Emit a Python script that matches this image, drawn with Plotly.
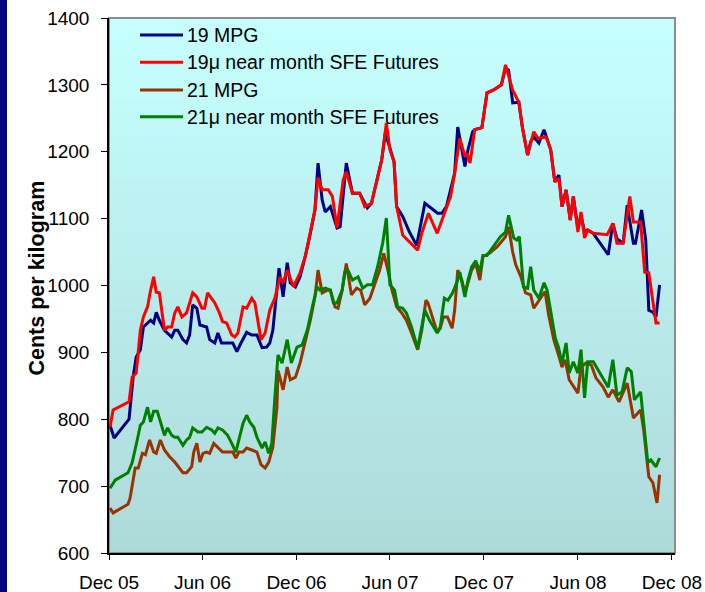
import plotly.graph_objects as go

# ---------------- data ----------------
mpg19_dates = ["2005-12-03","2005-12-11","2006-01-09","2006-01-17","2006-01-23","2006-01-31","2006-02-06","2006-02-20","2006-02-26","2006-03-03","2006-03-09","2006-03-19","2006-04-02","2006-04-08","2006-04-14","2006-04-24","2006-05-01","2006-05-07","2006-05-13","2006-05-21","2006-05-27","2006-06-09","2006-06-15","2006-06-25","2006-07-01","2006-07-08","2006-07-18","2006-07-30","2006-08-07","2006-08-13","2006-08-26","2006-09-05","2006-09-15","2006-09-25","2006-10-04","2006-10-10","2006-10-16","2006-10-28","2006-11-05","2006-11-13","2006-11-19","2006-11-29","2006-12-08","2006-12-18","2006-12-28","2007-01-06","2007-01-12","2007-01-20","2007-01-26","2007-02-05","2007-02-18","2007-02-24","2007-03-08","2007-03-20","2007-04-03","2007-04-18","2007-04-26","2007-05-06","2007-05-16","2007-05-23","2007-06-01","2007-06-09","2007-06-14","2007-06-26","2007-07-09","2007-07-23","2007-08-08","2007-08-17","2007-09-02","2007-09-10","2007-09-19","2007-10-05","2007-10-11","2007-10-25","2007-10-31","2007-11-09","2007-11-13","2007-11-27","2007-12-07","2007-12-19","2008-01-04","2008-01-12","2008-01-18","2008-01-26","2008-02-07","2008-02-14","2008-02-24","2008-03-01","2008-03-07","2008-03-17","2008-03-27","2008-04-09","2008-04-17","2008-04-25","2008-05-01","2008-05-09","2008-05-17","2008-05-23","2008-06-01","2008-06-07","2008-06-14","2008-06-20","2008-07-01","2008-07-08","2008-07-30","2008-08-08","2008-08-16","2008-08-28","2008-09-05","2008-09-17","2008-09-21","2008-10-03","2008-10-11","2008-10-17","2008-10-25","2008-10-31","2008-11-07"]
mpg19_values = [791,772,800,863,893,904,938,948,944,960,948,933,923,933,933,919,914,926,971,966,941,938,919,914,929,914,914,914,901,911,930,926,926,907,908,914,933,1026,983,1034,1004,998,1013,1043,1078,1113,1183,1128,1110,1118,1086,1088,1183,1138,1138,1116,1123,1158,1188,1228,1203,1185,1118,1103,1080,1060,1123,1118,1108,1108,1118,1168,1237,1178,1203,1230,1233,1236,1288,1292,1300,1325,1322,1273,1274,1236,1195,1215,1222,1213,1233,1203,1155,1165,1118,1143,1098,1133,1085,1105,1080,1083,1078,1070,1046,1093,1070,1063,1120,1063,1063,1113,1068,963,960,953,1001]

fut19_dates = ["2005-12-03","2005-12-09","2006-01-09","2006-01-15","2006-01-23","2006-01-31","2006-02-06","2006-02-14","2006-02-20","2006-02-26","2006-03-03","2006-03-09","2006-03-19","2006-03-25","2006-04-02","2006-04-08","2006-04-14","2006-04-22","2006-05-01","2006-05-13","2006-05-21","2006-05-31","2006-06-05","2006-06-11","2006-06-25","2006-07-04","2006-07-10","2006-07-18","2006-07-28","2006-08-03","2006-08-09","2006-08-19","2006-08-26","2006-09-05","2006-09-11","2006-09-23","2006-10-01","2006-10-10","2006-10-20","2006-10-30","2006-11-05","2006-11-13","2006-11-25","2006-12-08","2006-12-18","2006-12-28","2007-01-06","2007-01-12","2007-01-20","2007-02-01","2007-02-09","2007-02-18","2007-03-02","2007-03-08","2007-03-20","2007-04-03","2007-04-13","2007-04-26","2007-05-06","2007-05-16","2007-05-25","2007-06-01","2007-06-09","2007-06-14","2007-06-26","2007-07-09","2007-07-25","2007-08-02","2007-08-15","2007-09-01","2007-09-15","2007-09-27","2007-10-05","2007-10-15","2007-10-25","2007-10-29","2007-11-04","2007-11-13","2007-11-27","2007-12-07","2007-12-19","2008-01-04","2008-01-12","2008-01-26","2008-02-07","2008-02-14","2008-02-24","2008-03-07","2008-03-15","2008-03-31","2008-04-09","2008-04-17","2008-04-25","2008-05-01","2008-05-09","2008-05-17","2008-05-23","2008-06-01","2008-06-07","2008-06-14","2008-06-20","2008-07-01","2008-07-28","2008-08-08","2008-08-16","2008-08-28","2008-09-10","2008-09-17","2008-10-01","2008-10-09","2008-10-17","2008-10-25","2008-10-31","2008-11-07"]
fut19_values = [788,814,826,863,869,933,953,968,993,1013,990,989,933,938,938,959,968,953,959,989,983,966,966,989,974,959,946,944,926,923,929,968,966,981,974,919,929,963,981,1013,1004,1023,998,1019,1043,1078,1113,1161,1143,1143,1133,1086,1158,1170,1138,1138,1118,1123,1158,1188,1243,1203,1185,1118,1075,1065,1053,1078,1108,1078,1108,1133,1168,1220,1193,1198,1183,1233,1236,1288,1292,1300,1330,1292,1274,1236,1195,1230,1220,1222,1203,1155,1160,1118,1143,1098,1133,1080,1110,1071,1083,1078,1076,1093,1063,1063,1133,1095,1095,1020,1019,974,944,944]

mpg21_dates = ["2005-12-03","2005-12-09","2006-01-07","2006-01-11","2006-01-21","2006-01-27","2006-02-04","2006-02-10","2006-02-18","2006-02-26","2006-03-03","2006-03-11","2006-03-19","2006-03-29","2006-04-08","2006-04-18","2006-04-24","2006-05-01","2006-05-11","2006-05-15","2006-05-21","2006-05-27","2006-06-02","2006-06-09","2006-06-15","2006-06-23","2006-07-01","2006-07-10","2006-07-20","2006-07-30","2006-08-05","2006-08-11","2006-08-19","2006-08-26","2006-09-05","2006-09-15","2006-09-23","2006-10-01","2006-10-08","2006-10-16","2006-10-24","2006-10-26","2006-11-05","2006-11-13","2006-11-19","2006-11-29","2006-12-08","2006-12-18","2006-12-28","2007-01-06","2007-01-12","2007-01-20","2007-01-30","2007-02-05","2007-02-14","2007-02-20","2007-02-28","2007-03-08","2007-03-18","2007-03-28","2007-04-05","2007-04-13","2007-04-23","2007-05-02","2007-05-12","2007-05-20","2007-05-28","2007-06-05","2007-06-14","2007-06-24","2007-07-03","2007-07-13","2007-07-25","2007-08-02","2007-08-10","2007-08-14","2007-08-22","2007-09-01","2007-09-07","2007-09-13","2007-09-21","2007-09-30","2007-10-05","2007-10-11","2007-10-19","2007-10-25","2007-10-31","2007-11-07","2007-11-15","2007-11-23","2007-11-29","2007-12-13","2007-12-27","2008-01-12","2008-01-18","2008-01-26","2008-02-01","2008-02-11","2008-02-20","2008-03-01","2008-03-07","2008-03-17","2008-03-29","2008-04-05","2008-04-15","2008-04-25","2008-05-01","2008-05-07","2008-05-15","2008-06-01","2008-06-07","2008-06-17","2008-06-27","2008-07-06","2008-07-20","2008-07-30","2008-08-08","2008-08-20","2008-08-28","2008-09-05","2008-09-17","2008-10-01","2008-10-07","2008-10-17","2008-10-25","2008-11-02","2008-11-07"]
mpg21_values = [667,660,673,682,727,727,749,747,769,751,749,769,754,744,736,727,720,720,729,751,764,736,749,751,749,764,758,751,751,751,742,751,751,757,754,751,732,727,736,758,818,873,844,878,859,863,884,914,948,983,1023,989,993,993,968,966,993,1033,986,996,993,971,981,1001,1023,1048,1023,993,968,959,948,929,904,933,978,974,953,930,936,953,953,936,963,1023,1008,989,1004,1023,1033,1008,1043,1049,1058,1073,1088,1050,1031,1013,989,986,966,978,991,956,919,894,878,889,859,839,878,884,881,862,848,833,844,826,841,854,802,814,784,714,705,675,717]

fut21_dates = ["2005-12-03","2005-12-13","2006-01-07","2006-01-15","2006-01-25","2006-01-31","2006-02-06","2006-02-14","2006-02-20","2006-02-26","2006-03-05","2006-03-11","2006-03-19","2006-03-25","2006-04-02","2006-04-08","2006-04-14","2006-04-24","2006-05-01","2006-05-07","2006-05-13","2006-05-23","2006-05-31","2006-06-09","2006-06-19","2006-06-25","2006-07-01","2006-07-10","2006-07-20","2006-07-28","2006-08-05","2006-08-13","2006-08-19","2006-08-26","2006-09-01","2006-09-09","2006-09-15","2006-09-25","2006-10-01","2006-10-08","2006-10-14","2006-10-20","2006-10-26","2006-11-03","2006-11-13","2006-11-21","2006-12-02","2006-12-12","2006-12-22","2007-01-01","2007-01-10","2007-01-16","2007-01-26","2007-02-05","2007-02-11","2007-02-18","2007-02-28","2007-03-05","2007-03-11","2007-03-20","2007-03-31","2007-04-09","2007-04-18","2007-04-28","2007-05-08","2007-05-18","2007-05-25","2007-06-01","2007-06-10","2007-06-16","2007-06-26","2007-07-03","2007-07-13","2007-07-25","2007-08-02","2007-08-08","2007-08-17","2007-09-01","2007-09-07","2007-09-15","2007-09-22","2007-10-01","2007-10-11","2007-10-15","2007-10-25","2007-10-31","2007-11-07","2007-11-15","2007-11-23","2007-11-29","2007-12-07","2007-12-19","2008-01-02","2008-01-12","2008-01-18","2008-01-28","2008-02-03","2008-02-08","2008-02-16","2008-02-24","2008-03-01","2008-03-07","2008-03-17","2008-03-27","2008-04-02","2008-04-12","2008-04-18","2008-04-24","2008-05-01","2008-05-09","2008-05-15","2008-05-23","2008-06-01","2008-06-07","2008-06-14","2008-06-20","2008-07-01","2008-07-10","2008-07-30","2008-08-08","2008-08-16","2008-08-26","2008-09-05","2008-09-13","2008-09-19","2008-10-01","2008-10-07","2008-10-15","2008-10-21","2008-10-31","2008-11-07"]
fut21_values = [697,709,720,735,769,791,796,818,796,812,812,796,776,787,776,773,773,761,769,773,787,781,781,788,784,779,787,784,776,764,751,776,794,806,796,788,773,757,766,749,764,833,896,884,919,884,908,911,933,968,998,993,996,993,974,974,993,1020,1023,1008,1013,996,1001,1001,1028,1064,1101,1001,993,968,966,959,938,906,938,963,948,929,938,981,978,989,1008,1020,983,1008,1028,1037,1020,1045,1045,1058,1073,1080,1105,1071,1068,1073,998,996,1028,993,981,1004,993,948,921,908,884,914,869,886,869,904,832,886,886,874,848,889,836,841,877,871,829,841,799,735,739,729,742]

series_names = ["19 MPG", "19\u03bc near month SFE Futures", "21 MPG", "21\u03bc near month SFE Futures"]
series_colors = ["#000080", "#FF0000", "#993300", "#008000"]
tick_dates = ["2005-12-01", "2006-06-01", "2006-12-01", "2007-06-01", "2007-12-01", "2008-06-01", "2008-12-01"]
tick_labels = ["Dec 05", "Jun 06", "Dec 06", "Jun 07", "Dec 07", "Jun 08", "Dec 08"]
y_title = "Cents per kilogram"

FONT = "Arial, 'Liberation Sans', sans-serif"

fig = go.Figure()
all_series = [(mpg19_dates, mpg19_values), (fut19_dates, fut19_values),
              (mpg21_dates, mpg21_values), (fut21_dates, fut21_values)]
for (d, v), name, col in zip(all_series, series_names, series_colors):
    fig.add_trace(go.Scatter(x=d, y=v, mode="lines", name=name,
                             line=dict(color=col, width=3), showlegend=False,
                             hoverinfo="skip"))

# plot geometry (pixels)
W, H = 705, 592
L, R, T, B = 109, 30, 18, 39
pw, ph = W - L - R, H - T - B

shapes = []
# gradient background for plot area
top_rgb = (198, 255, 255)
bot_rgb = (174, 217, 217)
N = 80
for i in range(N):
    f = (i + 0.5) / N
    c = tuple(round(bot_rgb[k] + (top_rgb[k] - bot_rgb[k]) * f) for k in range(3))
    shapes.append(dict(type="rect", xref="paper", yref="paper",
                       x0=0, x1=1, y0=i / N, y1=(i + 1) / N + 0.002,
                       fillcolor="rgb(%d,%d,%d)" % c, line=dict(width=0),
                       layer="below"))
# plot border (gray)
shapes.append(dict(type="rect", xref="paper", yref="paper", x0=0, x1=1, y0=0, y1=1,
                   line=dict(color="#8c8c8c", width=2), fillcolor="rgba(0,0,0,0)",
                   layer="below"))
# navy strip at left edge of slide
shapes.append(dict(type="rect", xref="paper", yref="paper",
                   x0=-L / pw - 0.01, x1=(7 - L) / pw, y0=-B / ph - 0.01, y1=1 + T / ph + 0.01,
                   fillcolor="#000080", line=dict(width=0), layer="above"))

annotations = []
# manual legend
leg_y = [35, 62.3, 90, 116.7]
for name, col, yy in zip(series_names, series_colors, leg_y):
    yp = (H - B - yy) / ph
    shapes.append(dict(type="line", xref="paper", yref="paper",
                       x0=(140 - L) / pw, x1=(183 - L) / pw, y0=yp, y1=yp,
                       line=dict(color=col, width=3), layer="above"))
    annotations.append(dict(xref="paper", yref="paper", x=(185 - L) / pw, y=yp,
                            xanchor="left", yanchor="middle", text=name,
                            showarrow=False, font=dict(family=FONT, size=19.5, color="#000000")))
# y axis title
annotations.append(dict(xref="paper", yref="paper", x=(36 - L) / pw,
                        y=(H - B - 278.5) / ph, xanchor="center", yanchor="middle",
                        text="<b>%s</b>" % y_title, textangle=-90, showarrow=False,
                        font=dict(family=FONT, size=21.5, color="#000000")))

fig.update_layout(
    width=W, height=H, autosize=False,
    margin=dict(l=L, r=R, t=T, b=B, pad=0, autoexpand=False),
    paper_bgcolor="#FFFFFF", plot_bgcolor="#C8F5F5",
    font=dict(family=FONT, size=19, color="#000000"),
    showlegend=False, hovermode=False,
    shapes=shapes, annotations=annotations,
    xaxis=dict(type="date", range=["2005-12-01", "2008-12-07"], automargin=False,
               tickmode="array", tickvals=tick_dates, ticktext=tick_labels,
               ticks="outside", ticklen=5, tickwidth=1, tickcolor="#000000",
               showline=True, linecolor="#000000", linewidth=1.5,
               showgrid=False, zeroline=False, ticklabelstandoff=6,
               tickfont=dict(family=FONT, size=19, color="#000000")),
    yaxis=dict(range=[600, 1400], tickmode="linear", tick0=600, dtick=100, automargin=False,
               ticks="outside", ticklen=6, tickwidth=1, tickcolor="#000000",
               showline=True, linecolor="#000000", linewidth=1.5,
               showgrid=False, zeroline=False, ticklabelstandoff=8,
               tickfont=dict(family=FONT, size=19, color="#000000")),
)

fig.write_html("out.html", config={"displayModeBar": False},
               post_script="document.body.style.margin='0';document.body.style.padding='0';document.body.style.overflow='hidden';")
